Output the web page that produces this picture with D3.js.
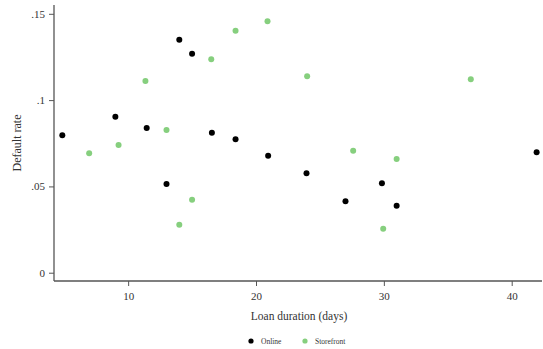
<!DOCTYPE html>
<html>
<head>
<meta charset="utf-8">
<script src="https://cdn.jsdelivr.net/npm/d3@7"></script>
<style>
  html, body { margin: 0; padding: 0; background: #fff; }
  svg { display: block; }
</style>
</head>
<body>
<div id="chart"></div>
<script>
// Values
const onlineDays = [4.85, 9.0, 11.45, 13.0, 14.0, 15.0, 16.55, 18.4, 20.95, 23.95, 27.0, 29.85, 31.0, 41.95];
const onlineRates = [0.0796, 0.0904, 0.0838, 0.0514, 0.135, 0.1269, 0.0811, 0.0773, 0.0678, 0.0576, 0.0414, 0.0518, 0.0388, 0.0698];
const storefrontDays = [6.95, 9.25, 11.35, 13.0, 14.0, 15.0, 16.5, 18.4, 20.9, 24.0, 27.6, 29.95, 31.0, 36.8];
const storefrontRates = [0.0692, 0.074, 0.1111, 0.0827, 0.0278, 0.0423, 0.1236, 0.1402, 0.1457, 0.1138, 0.0707, 0.0255, 0.0659, 0.1121];
const xTicks = [10, 20, 30, 40];
const yTicks = [0, 0.05, 0.1, 0.15];

const series = [
  { label: 'Online', color: '#000000', days: onlineDays, rates: onlineRates },
  { label: 'Storefront', color: '#86cf7e', days: storefrontDays, rates: storefrontRates },
];

const width = 543;
const height = 349;
const margin = { top: 5, right: 1, bottom: 68, left: 54 };
const font = '"Liberation Serif", "DejaVu Serif", serif';
const axisColor = '#555';
const textColor = '#333';

const svg = d3.select('#chart')
  .append('svg')
  .attr('width', width)
  .attr('height', height);

const x = d3.scaleLinear()
  .domain([4.2, 42.37])
  .range([margin.left, width - margin.right]);

const y = d3.scaleLinear()
  .domain([-0.0048, 0.1551])
  .range([height - margin.bottom, margin.top]);

/* Y axis */
const yAxis = svg.append('g')
  .attr('transform', `translate(${margin.left},0)`)
  .call(d3.axisLeft(y).tickValues(yTicks).tickSize(5).tickPadding(4)
    .tickFormat(d => d === 0 ? '0' : d3.format('.2~f')(d).replace(/^0/, '')));

yAxis.select('.domain').attr('stroke', axisColor).attr('stroke-width', 1.3)
  .attr('d', `M0,${y.range()[0]}V${y.range()[1]}`);
yAxis.selectAll('.tick line').attr('stroke', axisColor);
yAxis.selectAll('text')
  .attr('fill', textColor)
  .attr('font-family', font)
  .attr('font-size', 11);

/* X axis */
const xAxis = svg.append('g')
  .attr('transform', `translate(0,${height - margin.bottom})`)
  .call(d3.axisBottom(x).tickValues(xTicks).tickSize(5).tickPadding(6));

xAxis.select('.domain').attr('stroke', axisColor).attr('stroke-width', 1.3)
  .attr('d', `M${x.range()[0]},0H${x.range()[1]}`);
xAxis.selectAll('.tick line').attr('stroke', axisColor);
xAxis.selectAll('text')
  .attr('fill', textColor)
  .attr('font-family', font)
  .attr('font-size', 11);

/* Axis titles */
svg.append('text')
  .attr('transform', `translate(21,${(margin.top + height - margin.bottom) / 2}) rotate(-90)`)
  .attr('text-anchor', 'middle')
  .attr('fill', textColor)
  .attr('font-family', font)
  .attr('font-size', 12)
  .text('Default rate');

svg.append('text')
  .attr('x', 299)
  .attr('y', 320)
  .attr('text-anchor', 'middle')
  .attr('fill', textColor)
  .attr('font-family', font)
  .attr('font-size', 11.5)
  .text('Loan duration (days)');

/* Points */
series.forEach(s => {
  svg.append('g')
    .selectAll('circle')
    .data(s.days.map((d, i) => ({ day: d, rate: s.rates[i] })))
    .join('circle')
    .attr('cx', d => x(d.day))
    .attr('cy', d => y(d.rate))
    .attr('r', 3)
    .attr('fill', s.color);
});

/* Legend */
const legend = svg.append('g').attr('transform', 'translate(251,341)');
legend.selectAll('g')
  .data(series)
  .join('g')
  .attr('transform', (_, i) => `translate(${i * 54},0)`)
  .each(function (d) {
    const g = d3.select(this);
    g.append('circle').attr('r', 2.6).attr('fill', d.color);
    g.append('text')
      .attr('x', 10)
      .attr('y', 2.5)
      .attr('fill', textColor)
      .attr('font-family', font)
      .attr('font-size', 7.5)
      .text(d.label);
  });
</script>
</body>
</html>
